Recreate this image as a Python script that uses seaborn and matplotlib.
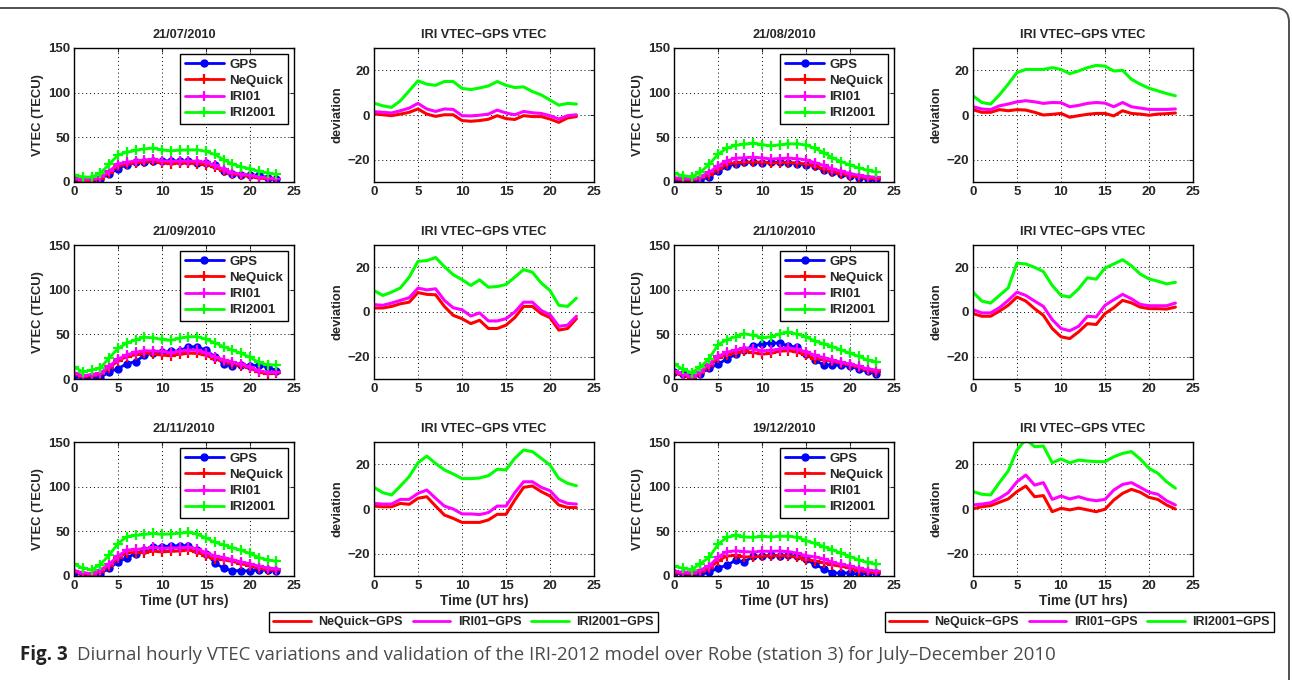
import matplotlib
matplotlib.use("Agg")
import matplotlib.pyplot as plt
import seaborn as sns
from matplotlib.lines import Line2D
from matplotlib.patches import FancyBboxPatch

sns.set_style("white")
plt.rcParams['font.family'] = ['Liberation Sans', 'DejaVu Sans']
plt.rcParams['font.weight'] = 'bold'
plt.rcParams['axes.titleweight'] = 'bold'
plt.rcParams['axes.labelweight'] = 'bold'

### Data
hours = list(range(24))
dates = ["21/07/2010", "21/08/2010", "21/09/2010", "21/10/2010", "21/11/2010", "19/12/2010"]

# 21/07/2010
gps_jul = [2.5, 1.5, 2, 3.5, 9, 15, 19.5, 22, 22, 23, 24, 23.5, 23.5, 23, 21, 21, 18.5, 12.5, 9.5, 8, 8, 7.5, 5, 3.5]
neq_jul = [3, 1.6, 1.7, 3.9, 10.2, 17.7, 19.9, 21.4, 22.1, 23.1, 21.5, 20.7, 21, 21.1, 20.7, 19.4, 16.5, 12.2, 8.8, 7.3, 6.2, 4.2, 3.7, 2.8]
iri01_jul = [4, 2.7, 2.9, 5.4, 12.1, 20.2, 22.2, 23.6, 24.7, 25.5, 23.7, 23.1, 23.4, 23.4, 23.2, 21.9, 18.6, 14.1, 10.5, 8.7, 7.7, 5.7, 4.7, 3.6]
iri2001_jul = [7.8, 5.6, 5.4, 9.9, 19.8, 30.3, 33.3, 35.3, 37, 38, 35.9, 34.9, 35.6, 36, 36, 34.3, 30.8, 25.1, 20, 17, 14.7, 11.9, 10.2, 8.4]
dneq_jul = [0.5, 0.1, -0.3, 0.4, 1.2, 2.7, 0.4, -0.6, 0.1, 0.1, -2.5, -2.8, -2.5, -1.9, -0.3, -1.6, -2, -0.3, -0.7, -0.7, -1.8, -3.3, -1.3, -0.7]
diri01_jul = [1.5, 1.2, 0.9, 1.9, 3.1, 5.2, 2.7, 1.6, 2.7, 2.5, -0.3, -0.4, -0.1, 0.4, 2.2, 0.9, 0.1, 1.6, 1, 0.7, -0.3, -1.8, -0.3, 0.1]
diri2001_jul = [5.3, 4.1, 3.4, 6.4, 10.8, 15.3, 13.8, 13.3, 15, 15, 11.9, 11.4, 12.1, 13, 15, 13.3, 12.3, 12.6, 10.5, 9, 6.7, 4.4, 5.2, 4.9]

# 21/08/2010
gps_aug = [1, 1.5, 1, 2, 6, 12, 17.5, 20.5, 22, 22, 21.5, 22, 22, 21.5, 20.5, 19.5, 18, 13, 11, 9, 7, 5, 3.5, 2.5]
neq_aug = [3.4, 2.7, 2.2, 4.4, 7.9, 14.4, 19.7, 21.7, 22, 22.3, 22.2, 21, 21.7, 21.8, 21.2, 20.2, 17.6, 14.9, 11.7, 9.4, 6.9, 5.4, 4.1, 3.4]
iri01_aug = [4.7, 4.2, 3.4, 6.1, 10.9, 17.9, 23.9, 26.4, 27.2, 27.6, 27, 25.7, 26.3, 26.7, 26.1, 24.8, 21.7, 18.6, 14.7, 12.1, 9.5, 7.5, 6, 5.2]
iri2001_aug = [9.6, 7.1, 5.9, 11, 19.8, 31, 37.9, 40.9, 42.4, 43.2, 41.9, 40.5, 41.7, 42.7, 42.7, 41.4, 37.7, 33, 27, 22.8, 19, 15.8, 13.1, 11.1]
dneq_aug = [2.4, 1.2, 1.2, 2.4, 1.9, 2.4, 2.2, 1.2, 0, 0.3, 0.7, -1, -0.3, 0.3, 0.7, 0.7, -0.4, 1.9, 0.7, 0.4, -0.1, 0.4, 0.6, 0.9]
diri01_aug = [3.7, 2.7, 2.4, 4.1, 4.9, 5.9, 6.4, 5.9, 5.2, 5.6, 5.5, 3.7, 4.3, 5.2, 5.6, 5.3, 3.7, 5.6, 3.7, 3.1, 2.5, 2.5, 2.5, 2.7]
diri2001_aug = [8.6, 5.6, 4.9, 9, 13.8, 19, 20.4, 20.4, 20.4, 21.2, 20.4, 18.5, 19.7, 21.2, 22.2, 21.9, 19.7, 20, 16, 13.8, 12, 10.8, 9.6, 8.6]

# 21/09/2010
gps_sep = [3.7, 0.8, 1, 1.5, 8, 11.5, 17.2, 19.5, 26.5, 29.4, 29.8, 31.3, 31.3, 36.2, 36, 32.3, 25, 17.2, 14.6, 15.7, 14.7, 15.5, 13.5, 9.4]
neq_sep = [5.5, 2.6, 3.5, 5.2, 12.4, 20.2, 25.1, 27.2, 29, 27.9, 26.8, 26.1, 27.6, 28.8, 28.6, 26.4, 22.5, 19.7, 17.1, 15, 12.2, 7.4, 6.1, 6.4]
iri01_sep = [7, 3.8, 5, 6.7, 14.4, 22.2, 27.1, 29.9, 31.7, 31.3, 30.8, 29.5, 30.9, 32.2, 32, 29.3, 25, 21.6, 19, 16.4, 13.5, 9.1, 7.6, 7.5]
iri2001_sep = [13.3, 8.2, 9.9, 12.3, 23.6, 34.2, 40.2, 43.9, 46.8, 46.1, 44.3, 43.2, 45.7, 47.3, 47.4, 44.6, 40.6, 36.2, 32.4, 28.7, 24.3, 18.5, 16, 15.6]
dneq_sep = [1.8, 1.8, 2.5, 3.7, 4.4, 8.7, 7.9, 7.7, 2.5, -1.5, -3, -5.2, -3.7, -7.4, -7.4, -5.9, -2.5, 2.5, 2.5, -0.7, -2.5, -8.1, -7.4, -3]
diri01_sep = [3.3, 3, 4, 5.2, 6.4, 10.7, 9.9, 10.4, 5.2, 1.9, 1, -1.8, -0.4, -4, -4, -3, 0, 4.4, 4.4, 0.7, -1.2, -6.4, -5.9, -1.9]
diri2001_sep = [9.6, 7.4, 8.9, 10.8, 15.6, 22.7, 23, 24.4, 20.3, 16.7, 14.5, 11.9, 14.4, 11.1, 11.4, 12.3, 15.6, 19, 17.8, 13, 9.6, 3, 2.5, 6.2]

# 21/10/2010
gps_oct = [8, 6, 3, 6, 12, 16.5, 22.5, 27.5, 32.5, 37, 39, 40.5, 40, 37, 35.5, 27.5, 21, 16, 15.5, 15.5, 14, 11.5, 8.5, 6]
neq_oct = [7.3, 4.1, 1.1, 6.4, 15, 23.2, 27.4, 29, 31, 29.6, 27.9, 28.6, 31.1, 31.8, 29.9, 26.8, 22.9, 21.2, 19.6, 17.7, 15.5, 13, 9.8, 8.2]
iri01_oct = [9, 5.6, 2.6, 7.9, 17.2, 25.4, 29.9, 32.4, 35, 33.6, 31.6, 32.1, 33.6, 35.1, 33.3, 30.5, 26.5, 23.9, 21.4, 18.9, 16.8, 14.3, 11.3, 10]
iri2001_oct = [16.9, 10.9, 7, 13.4, 22.8, 38.4, 44, 47.5, 50.6, 48.9, 46.4, 47.2, 50.4, 52.3, 50.2, 47.2, 42.5, 39.4, 36.2, 32.5, 28.8, 25.3, 21.1, 19.3]
dneq_oct = [-0.7, -1.9, -1.9, 0.4, 3, 6.7, 4.9, 1.5, -1.5, -7.4, -11.1, -11.9, -8.9, -5.2, -5.6, -0.7, 1.9, 5.2, 4.1, 2.2, 1.5, 1.5, 1.3, 2.2]
diri01_oct = [1, -0.4, -0.4, 1.9, 5.2, 8.9, 7.4, 4.9, 2.5, -3.4, -7.4, -8.4, -6.4, -1.9, -2.2, 3, 5.5, 7.9, 5.9, 3.4, 2.8, 2.8, 2.8, 4]
diri2001_oct = [8.9, 4.9, 4, 7.4, 10.8, 21.9, 21.5, 20, 18.1, 11.9, 7.4, 6.7, 10.4, 15.3, 14.7, 19.7, 21.5, 23.4, 20.7, 17, 14.8, 13.8, 12.6, 13.3]

# 21/11/2010
gps_nov = [3.6, 1.5, 0.5, 2.5, 9, 15.5, 20.5, 25, 29, 32, 33, 33.5, 34, 34, 29, 25, 15, 8.5, 6, 6, 5.5, 7, 6.5, 6]
neq_nov = [4.9, 2.5, 1.5, 5, 11.1, 20.3, 26, 26.3, 26.3, 27.8, 27, 27.5, 28, 29.1, 26.6, 22.6, 19, 18.2, 16.3, 13.8, 11.3, 8.8, 7.2, 6.6]
iri01_nov = [6.1, 3.7, 2.7, 6.8, 13.3, 22.5, 29, 29.8, 30.3, 32, 30.8, 31.3, 31.5, 32.4, 30.3, 26.3, 22.3, 20.7, 18.2, 15.7, 13.7, 11, 9, 8.2]
iri2001_nov = [13.3, 8.8, 6.8, 12.8, 23.5, 36.2, 44.2, 45.4, 46.5, 47.7, 46.6, 47.1, 47.9, 48.9, 46.8, 42.5, 37.7, 34.9, 31.7, 28.7, 25.2, 20.7, 18, 16.4]
dneq_nov = [1.3, 1, 1, 2.5, 2.1, 4.8, 5.5, 1.3, -2.7, -4.2, -6, -6, -6, -4.9, -2.4, -2.4, 4, 9.7, 10.3, 7.8, 5.8, 1.8, 0.7, 0.6]
diri01_nov = [2.5, 2.2, 2.2, 4.3, 4.3, 7, 8.5, 4.8, 1.3, 0, -2.2, -2.2, -2.5, -1.6, 1.3, 1.3, 7.3, 12.2, 12.2, 9.7, 8.2, 4, 2.5, 2.2]
diri2001_nov = [9.7, 7.3, 6.3, 10.3, 14.5, 20.7, 23.7, 20.4, 17.5, 15.7, 13.6, 13.6, 13.9, 14.9, 17.8, 17.5, 22.7, 26.4, 25.7, 22.7, 19.7, 13.7, 11.5, 10.4]

# 19/12/2010
gps_dec = [3.3, 2, 0.8, 2, 4, 9, 12, 17.5, 15.5, 22.5, 22, 23, 22.5, 23, 22, 18.5, 13, 8, 3.6, 3.3, 3.6, 1.8, 3, 3.6]
neq_dec = [3.4, 3, 2.3, 5, 8.5, 16.8, 22.3, 23, 21.5, 21.3, 22.3, 22.6, 22.9, 22.6, 20.8, 18.4, 17, 15, 12.4, 10.8, 8.8, 6.1, 4.8, 3.6]
iri01_dec = [5.1, 4.2, 3.6, 6.8, 11.3, 21.2, 27.2, 28.2, 27.3, 26.8, 27.8, 27.5, 28, 27.3, 25.7, 22.8, 21.5, 19, 15.4, 13, 11.1, 8.4, 6.7, 5.4]
iri2001_dec = [11.1, 8.6, 7.1, 13.8, 21, 35.4, 43.2, 45.4, 43.7, 43.2, 44.4, 43.7, 44.4, 44.5, 43.2, 39.7, 36.4, 32.9, 29.3, 25.7, 21.8, 17.8, 15.2, 12.9]
dneq_dec = [0.1, 1, 1.5, 3, 4.5, 7.8, 10.3, 5.5, 6, -1.2, 0.3, -0.4, 0.4, -0.4, -1.2, -0.1, 4, 7, 8.8, 7.5, 5.2, 4.3, 1.8, 0]
diri01_dec = [1.8, 2.2, 2.8, 4.8, 7.3, 12.2, 15.2, 10.7, 11.8, 4.3, 5.8, 4.5, 5.5, 4.3, 3.7, 4.3, 8.5, 11, 11.8, 9.7, 7.5, 6.6, 3.7, 1.8]
diri2001_dec = [7.8, 6.6, 6.3, 11.8, 17, 26.4, 31.2, 27.9, 28.2, 20.7, 22.4, 20.7, 21.9, 21.5, 21.2, 21.2, 23.4, 24.9, 25.7, 22.4, 18.2, 16, 12.2, 9.3]

vtec_sets = [
    (gps_jul, neq_jul, iri01_jul, iri2001_jul),
    (gps_aug, neq_aug, iri01_aug, iri2001_aug),
    (gps_sep, neq_sep, iri01_sep, iri2001_sep),
    (gps_oct, neq_oct, iri01_oct, iri2001_oct),
    (gps_nov, neq_nov, iri01_nov, iri2001_nov),
    (gps_dec, neq_dec, iri01_dec, iri2001_dec),
]
dev_sets = [
    (dneq_jul, diri01_jul, diri2001_jul),
    (dneq_aug, diri01_aug, diri2001_aug),
    (dneq_sep, diri01_sep, diri2001_sep),
    (dneq_oct, diri01_oct, diri2001_oct),
    (dneq_nov, diri01_nov, diri2001_nov),
    (dneq_dec, diri01_dec, diri2001_dec),
]

BLUE, RED, MAG, GRN = (0, 0, 1), (1, 0, 0), (1, 0, 1), (0, 1, 0)
TICK_FS = 9.5
TITLE_FS = 9.2
LAB_FS = 9.4
LEG_FS = 9

### Figure
fig = plt.figure(figsize=(12.92, 6.8), dpi=100)

# outer journal frame (rounded, only top/right visible)
frame = FancyBboxPatch((-20, -20), 1309, 692, boxstyle="round,pad=0,rounding_size=14",
                       transform=None, fill=False, edgecolor="#505050", linewidth=1.4)
fig.patches.append(frame)

col_left = [74, 374, 674, 973]
row_top = [48, 245, 442]
W, H = 220, 134


def make_ax(col, row):
    l = col_left[col] / 1292
    b = 1 - (row_top[row] + H) / 680
    return fig.add_axes([l, b, W / 1292, H / 680])


def style_ax(ax):
    ax.set_xlim(0, 25)
    ax.set_xticks([0, 5, 10, 15, 20, 25])
    ax.grid(True, linestyle=(0, (1, 3)), color="k", linewidth=0.7)
    for s in ax.spines.values():
        s.set_color("k")
        s.set_linewidth(1.0)
    ax.tick_params(direction="in", length=3, width=0.8, top=True, right=True,
                   labelsize=TICK_FS, pad=3)


def vtec_panel(ax, title, gps, neq, iri01, iri2001):
    sns.lineplot(x=hours, y=gps, ax=ax, color=BLUE, lw=2, marker="o", markersize=5,
                 markeredgecolor=BLUE, markeredgewidth=1, label="GPS")
    for y, c, lab in [(neq, RED, "NeQuick"), (iri01, MAG, "IRI01"), (iri2001, GRN, "IRI2001")]:
        sns.lineplot(x=hours, y=y, ax=ax, color=c, lw=2, marker="+", markersize=6.5,
                     markeredgecolor=c, markeredgewidth=1.6, label=lab)
    style_ax(ax)
    ax.set_ylim(0, 150)
    ax.set_yticks([0, 50, 100, 150])
    ax.set_title(title, fontsize=TITLE_FS, pad=7)
    ax.set_ylabel("VTEC (TECU)", fontsize=LAB_FS, labelpad=3)
    leg = ax.legend(loc="upper right", fontsize=LEG_FS + 0.5, frameon=True, fancybox=False,
                    edgecolor="k", framealpha=1, handlelength=3.0, borderpad=0.35,
                    labelspacing=0.3, handletextpad=0.4, borderaxespad=0.45)
    leg.get_frame().set_linewidth(1.0)


def dev_panel(ax, neq, iri01, iri2001):
    for y, c in [(neq, RED), (iri01, MAG), (iri2001, GRN)]:
        sns.lineplot(x=hours, y=y, ax=ax, color=c, lw=2.2)
    style_ax(ax)
    ax.set_ylim(-30, 30)
    ax.set_yticks([-20, 0, 20])
    ax.set_yticklabels(["\u221220", "0", "20"])
    ax.set_title("IRI VTEC\u2212GPS VTEC", fontsize=TITLE_FS, pad=7)
    ax.set_ylabel("deviation", fontsize=LAB_FS, labelpad=3)


for i, date in enumerate(dates):
    row = i // 2
    vcol = (i % 2) * 2
    ax_v = make_ax(vcol, row)
    vtec_panel(ax_v, date, *vtec_sets[i])
    ax_d = make_ax(vcol + 1, row)
    dev_panel(ax_d, *dev_sets[i])
    if row == 2:
        ax_v.set_xlabel("Time (UT hrs)", fontsize=LAB_FS + 0.5, labelpad=1)
        ax_d.set_xlabel("Time (UT hrs)", fontsize=LAB_FS + 0.5, labelpad=1)

# bottom legends
handles = [Line2D([], [], color=RED, lw=2), Line2D([], [], color=MAG, lw=2), Line2D([], [], color=GRN, lw=2)]
labels = ["NeQuick\u2212GPS", "IRI01\u2212GPS", "IRI2001\u2212GPS"]
for cx in [463.5 / 1292, 1079.5 / 1292]:
    lg = fig.legend(handles, labels, loc="center", bbox_to_anchor=(cx, 1 - 622 / 680), ncol=3,
                    fontsize=LEG_FS, frameon=True, fancybox=False, edgecolor="k", framealpha=1,
                    handlelength=3.0, columnspacing=0.8, handletextpad=0.6, borderpad=0.35)
    lg.get_frame().set_linewidth(1.0)

# caption
fig.text(20 / 1292, 1 - 655 / 680, "Fig. 3", fontsize=13.5, fontweight="bold", color="#222222",
         family=["Open Sans", "DejaVu Sans"], va="center")
fig.text(77 / 1292, 1 - 655 / 680,
         "Diurnal hourly VTEC variations and validation of the IRI-2012 model over Robe (station 3) for July\u2013December 2010",
         fontsize=13.4, fontweight="normal", color="#4a4a4a", family=["Open Sans", "DejaVu Sans"], va="center")

fig.savefig("out.png", dpi=100)
